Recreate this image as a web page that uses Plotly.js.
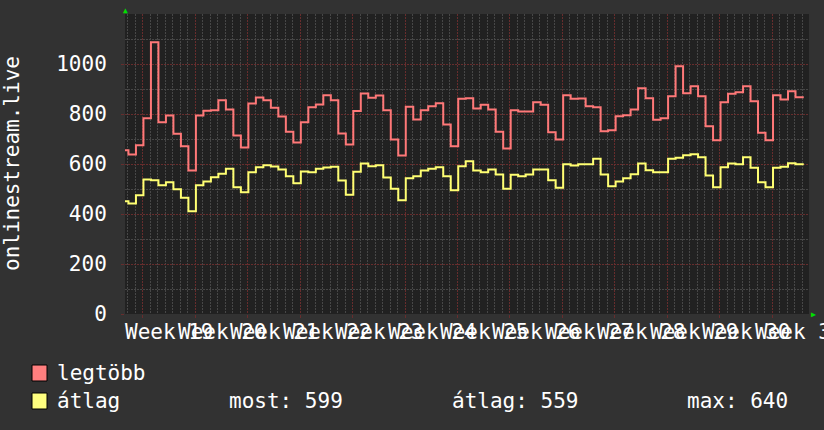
<!DOCTYPE html>
<html>
<head>
<meta charset="utf-8">
<script src="https://cdn.plot.ly/plotly-3.0.1.min.js"></script>
<style>
  html, body { margin: 0; padding: 0; background: #323232; }
  #chart { width: 824px; height: 430px; }
</style>
</head>
<body>
<div id="chart"></div>
<script>
// ---- data (daily values) ----
const maxValues = [
  655, 638, 675, 783, 1087, 767, 794, 721, 671, 574,
  794, 813, 815, 855, 818, 714, 666, 842, 866, 855,
  825, 790, 729, 686, 767, 827, 838, 875, 855, 722,
  678, 812, 882, 865, 874, 815, 698, 634, 829, 778,
  815, 831, 843, 758, 671, 861, 863, 822, 837, 818,
  729, 662, 815, 810, 810, 847, 837, 727, 698, 875,
  861, 862, 831, 827, 731, 735, 791, 795, 818, 903,
  863, 777, 783, 871, 991, 883, 911, 871, 751, 695,
  847, 881, 887, 911, 851, 725, 695, 875, 858, 891,
  867
];
const avgValues = [
  451, 442, 475, 538, 535, 515, 527, 499, 465, 411,
  515, 530, 547, 561, 581, 507, 487, 567, 587, 595,
  590, 578, 551, 523, 570, 567, 581, 586, 589, 534,
  477, 569, 602, 591, 595, 546, 501, 455, 543, 551,
  574, 581, 587, 551, 495, 591, 611, 574, 567, 578,
  558, 501, 557, 551, 558, 578, 578, 535, 505, 599,
  594, 599, 599, 621, 558, 511, 530, 543, 559, 602,
  575, 567, 567, 621, 625, 635, 639, 627, 554, 507,
  587, 602, 599, 627, 585, 527, 507, 585, 589, 603,
  599
];
const weekLabels = [
  'Week 19', 'Week 20', 'Week 21', 'Week 22', 'Week 23', 'Week 24', 'Week 25',
  'Week 26', 'Week 27', 'Week 28', 'Week 29', 'Week 30', 'Week 31'
];
const yTickVals = [0, 200, 400, 600, 800, 1000];
const yTickText = ['0', '200', '400', '600', '800', '1000'];
const axisTitle = 'onlinestream.live';
const legendNames = ['legtöbb', 'átlag'];
const statTexts = ['most: 599', 'átlag: 559', 'max: 640'];

// ---- time axis (days from start of Week 19, local time) ----
const firstStepDay = -2.9;   // start of the first daily step
const lastDataDay = 88.2;    // end of the last (partial) step
const xRange = [-2.36, 88.9];
const labelOffsetDays = 3.6; // week labels sit near mid-week

function stepX(vals) {
  const xs = vals.map((v, i) => firstStepDay + i);
  xs.push(lastDataDay);
  return xs;
}
function stepY(vals) {
  return vals.concat([vals[vals.length - 1]]);
}

const FONT = 'DejaVu Sans Mono, monospace';
const RED = '#ff7878';
const YEL = '#ffff72';
const MAJOR_GRID = '#672d2d';
const MINOR_GRID = '#474747';

const traces = [
  {
    x: stepX(maxValues), y: stepY(maxValues), type: 'scatter', mode: 'lines',
    line: { color: RED, width: 2, shape: 'hv' }, name: legendNames[0],
    hoverinfo: 'skip'
  },
  {
    x: stepX(avgValues), y: stepY(avgValues), type: 'scatter', mode: 'lines',
    line: { color: YEL, width: 2, shape: 'hv' }, name: legendNames[1],
    hoverinfo: 'skip'
  }
];

const annotations = [];
weekLabels.forEach((t, i) => {
  annotations.push({
    x: i * 7 + labelOffsetDays, xref: 'x', y: 0, yref: 'paper',
    yanchor: 'top', xanchor: 'center', yshift: -4,
    text: t, showarrow: false,
    font: { family: FONT, size: 21, color: '#ffffff' }
  });
});
// y-axis title
annotations.push({
  x: 0, xref: 'paper', xshift: -113, xanchor: 'center',
  y: 0.5, yref: 'paper', yanchor: 'middle',
  text: axisTitle, textangle: -90, showarrow: false,
  font: { family: FONT, size: 21, color: '#ffffff' }
});
// legend texts
const legendRows = [-59, -87];
annotations.push({
  x: 0, xref: 'paper', xshift: -70, xanchor: 'left',
  y: 0, yref: 'paper', yshift: legendRows[0], yanchor: 'middle',
  text: legendNames[0], showarrow: false,
  font: { family: FONT, size: 21, color: '#ffffff' }
});
annotations.push({
  x: 0, xref: 'paper', xshift: -70, xanchor: 'left',
  y: 0, yref: 'paper', yshift: legendRows[1], yanchor: 'middle',
  text: legendNames[1], showarrow: false,
  font: { family: FONT, size: 21, color: '#ffffff' }
});
const statShifts = [102, 325, 560];
statTexts.forEach((t, i) => {
  annotations.push({
    x: 0, xref: 'paper', xshift: statShifts[i], xanchor: 'left',
    y: 0, yref: 'paper', yshift: legendRows[1], yanchor: 'middle',
    text: t, showarrow: false,
    font: { family: FONT, size: 21, color: '#ffffff' }
  });
});
// green arrows
annotations.push({
  x: 0, xref: 'paper', y: 1, yref: 'paper', yanchor: 'bottom', xanchor: 'center',
  yshift: -3, text: '▲', showarrow: false, font: { family: FONT, size: 8, color: '#00e000' }
});
annotations.push({
  x: 1, xref: 'paper', y: 0, yref: 'paper', yanchor: 'middle', xanchor: 'left',
  xshift: 0, text: '▶', showarrow: false, font: { family: FONT, size: 8, color: '#00e000' }
});

const shapes = [
  { type: 'rect', xref: 'paper', yref: 'paper', xsizemode: 'pixel', ysizemode: 'pixel',
    xanchor: 0, yanchor: 0, x0: -93, x1: -78, y0: -51, y1: -67,
    fillcolor: '#ff7f7f', line: { color: '#000000', width: 1 } },
  { type: 'rect', xref: 'paper', yref: 'paper', xsizemode: 'pixel', ysizemode: 'pixel',
    xanchor: 0, yanchor: 0, x0: -93, x1: -78, y0: -79, y1: -95,
    fillcolor: '#ffff7f', line: { color: '#000000', width: 1 } }
];

const layout = {
  width: 824, height: 430,
  margin: { l: 125, r: 15, t: 14, b: 116, pad: 0 },
  paper_bgcolor: '#323232',
  plot_bgcolor: '#212121',
  showlegend: false,
  xaxis: {
    range: xRange, tickmode: 'linear', tick0: 0, dtick: 7,
    showticklabels: false, showgrid: true, gridcolor: MAJOR_GRID, gridwidth: 1,
    griddash: '2px,1px', zeroline: false, showline: false,
    ticks: 'outside', ticklen: 3, tickcolor: MAJOR_GRID,
    minor: { tick0: 0, dtick: 1, showgrid: true, gridcolor: MINOR_GRID, griddash: '2px,1px',
             ticks: '', gridwidth: 1 }
  },
  yaxis: {
    range: [0, 1200], tickmode: 'array', tickvals: yTickVals, ticktext: yTickText,
    showgrid: true, gridcolor: MAJOR_GRID, gridwidth: 1, griddash: '2px,1px',
    zeroline: false, showline: false,
    ticks: 'outside', ticklen: 3, tickcolor: MAJOR_GRID,
    ticklabelstandoff: 10,
    tickfont: { family: FONT, size: 21, color: '#ffffff' },
    minor: { tick0: 0, dtick: 100, showgrid: true, gridcolor: MINOR_GRID, griddash: '2px,1px',
             ticks: '', gridwidth: 1 }
  },
  annotations: annotations,
  shapes: shapes
};

Plotly.newPlot('chart', traces, layout, { staticPlot: true, displayModeBar: false });
</script>
</body>
</html>
